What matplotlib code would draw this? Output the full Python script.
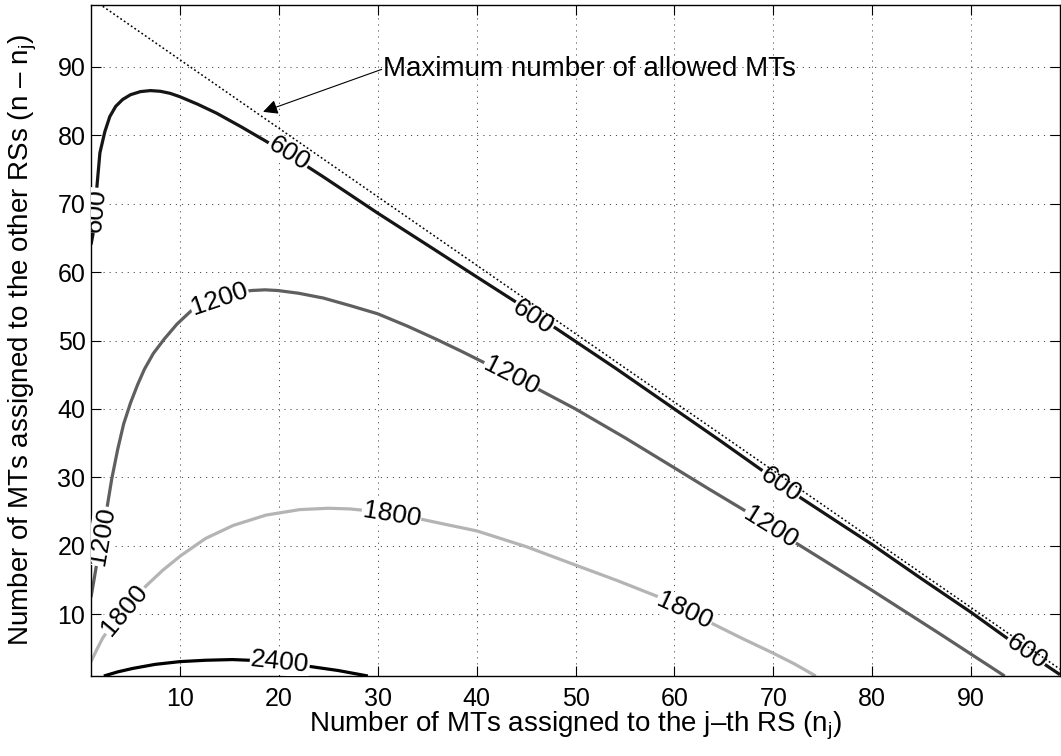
import numpy as np
import matplotlib
matplotlib.use('Agg')
import matplotlib.pyplot as plt

plt.rcParams['font.family'] = ['Liberation Sans', 'DejaVu Sans']
plt.rcParams['mathtext.fontset'] = 'custom'
plt.rcParams['mathtext.rm'] = 'Liberation Sans'
plt.rcParams['mathtext.it'] = 'Liberation Sans:italic'

# ---------------- data ----------------
levels = [600, 1200, 1800, 2400]

c600_x = [1.0, 1.2, 1.4, 1.6, 1.9, 2.4, 2.9, 3.5, 4.2, 5.0, 6.0, 7.0, 8.0, 9.0, 10.0,
          11.8, 13.7, 16.2, 18.7, 21.5, 24.5, 27.2, 30.0, 35.5, 40.0, 44.0, 48.0, 54.0,
          60.0, 64.5, 68.9, 72.8, 76.5, 80.0, 85.0, 90.0, 95.5, 99.0]
c600_y = [64.0, 65.5, 69.0, 72.5, 77.4, 80.5, 82.7, 84.2, 85.2, 85.9, 86.35, 86.5, 86.4, 86.1, 85.6,
          84.5, 83.2, 81.2, 79.1, 76.7, 73.9, 71.3, 68.6, 63.5, 59.3, 55.6, 51.8, 46.0,
          40.0, 35.5, 31.0, 27.0, 23.5, 20.2, 15.2, 10.3, 4.6, 1.2]

c1200_x = [1.0, 1.3, 1.6, 2.1, 2.6, 3.1, 3.7, 4.3, 5.0, 5.7, 6.4, 7.3, 8.4, 9.7, 11.1,
           12.4, 13.8, 15.5, 17.2, 18.6, 19.9, 22.0, 24.5, 27.2, 30.0, 33.0, 35.9, 38.5,
           41.0, 43.6, 46.2, 50.0, 55.0, 60.0, 63.5, 67.2, 72.1, 76.0, 80.0, 86.7, 93.4]
c1200_y = [12.5, 15.0, 17.6, 21.5, 25.4, 29.8, 34.1, 37.8, 40.9, 43.5, 45.8, 48.1, 50.2, 52.4, 54.3,
           55.4, 56.3, 56.9, 57.3, 57.4, 57.3, 56.9, 56.2, 55.1, 53.9, 52.1, 50.2, 48.4,
           46.6, 44.8, 42.9, 40.0, 35.8, 31.4, 28.3, 25.1, 20.6, 17.1, 13.5, 7.3, 1.0]

c1800_x = [1.0, 1.6, 2.2, 3.3, 4.4, 5.5, 6.6, 8.3, 10.1, 12.6, 15.4, 18.7, 22.1, 25.0,
           27.2, 29.3, 31.4, 34.4, 37.0, 40.0, 45.0, 50.0, 54.2, 58.5, 61.0, 63.5, 66.7,
           69.9, 72.1, 74.3]
c1800_y = [3.1, 4.9, 6.6, 8.7, 10.6, 12.45, 14.2, 16.5, 18.6, 21.1, 23.0, 24.5, 25.3, 25.5,
           25.4, 25.1, 24.7, 23.9, 23.1, 22.2, 19.9, 17.2, 14.95, 12.5, 10.7, 8.9, 6.6,
           4.4, 2.8, 1.0]

c2400_x = [2.3, 3.7, 5.2, 7.5, 10.0, 12.6, 15.3, 17.0, 20.1, 23.1, 26.0, 29.0]
c2400_y = [1.0, 1.6, 2.1, 2.7, 3.1, 3.3, 3.4, 3.3, 3.0, 2.4, 1.8, 1.0]

# label centres along each contour
lab600 = [(1.5, 69.0), (21.0, 77.3), (45.7, 53.4), (70.7, 28.9), (95.6, 4.6)]
lab1200 = [(2.1, 21.4), (14.0, 56.0), (43.5, 44.8), (69.7, 22.7)]
lab1800 = [(4.4, 10.6), (31.4, 24.6), (61.0, 10.5)]
lab2400 = [(20.1, 3.0)]

# maximum number of allowed MTs (n_j + (n - n_j) = const)
limit_x = [1, 99]
limit_y = [100, 2]

xticks = [10, 20, 30, 40, 50, 60, 70, 80, 90]
yticks = [10, 20, 30, 40, 50, 60, 70, 80, 90]

# ---------------- figure ----------------
fig = plt.figure(figsize=(10.61, 7.56), dpi=100)
ax = fig.add_axes([91 / 1061, 1 - 676 / 756, (1060 - 91) / 1061, (676 - 5) / 756])
ax.set_xlim(1, 99)
ax.set_ylim(1, 99)

curves = [(c600_x, c600_y, '#151515', lab600),
          (c1200_x, c1200_y, '#5f5f5f', lab1200),
          (c1800_x, c1800_y, '#b4b4b4', lab1800),
          (c2400_x, c2400_y, '#000000', lab2400)]

for (xs, ys, col, labs), lev in zip(curves, levels):
    ax.plot(xs, ys, color=col, lw=2.3, solid_capstyle='butt',
            solid_joinstyle='round', zorder=2)

ax.plot(limit_x, limit_y, color='black', lw=1.1, linestyle=(0, (1.2, 1.6)), zorder=6)


def label_angle(xs, ys, px, py):
    pts = ax.transData.transform(np.column_stack([xs, ys]))
    p = ax.transData.transform((px, py))
    d = np.hypot(pts[:, 0] - p[0], pts[:, 1] - p[1])
    i = int(np.argmin(d))
    i0 = max(i - 2, 0)
    i1 = min(i + 2, len(xs) - 1)
    dx, dy = pts[i1] - pts[i0]
    ang = np.degrees(np.arctan2(dy, dx))
    if ang > 90:
        ang -= 180
    if ang < -90:
        ang += 180
    return ang


for (xs, ys, col, labs), lev in zip(curves, levels):
    for (px, py) in labs:
        ang = label_angle(xs, ys, px, py)
        ax.text(px, py, str(lev), rotation=ang, rotation_mode='anchor',
                ha='center', va='center', fontsize=19, color='black', zorder=4,
                bbox=dict(facecolor='white', edgecolor='none', pad=0.5),
                clip_on=True)

# annotation
ax.annotate('', xy=(18.4, 83.4), xytext=(30.4, 89.6),
            arrowprops=dict(arrowstyle='-|>', color='black', lw=0.8,
                            mutation_scale=22, shrinkA=0, shrinkB=0),
            zorder=7)
ax.text(30.5, 89.6, 'Maximum number of allowed MTs', fontsize=20,
        ha='left', va='center', zorder=7)

# axes styling
ax.set_xticks(xticks)
ax.set_yticks(yticks)
ax.set_axisbelow(True)
ax.grid(True, color='0.3', lw=0.7, linestyle=(0, (1.2, 5.0)))
ax.tick_params(direction='in', length=7, width=0.8, top=True, right=True,
               labelsize=18)
ax.tick_params(axis='x', pad=8)
ax.tick_params(axis='y', pad=4)
for s in ax.spines.values():
    s.set_linewidth(1.0)
    s.set_color('black')

ax.set_xlabel(r'Number of MTs assigned to the j–th RS (n$_{\mathregular{j}}$)', fontsize=20)
ax.set_ylabel(r'Number of MTs assigned to the other RSs (n – n$_{\mathregular{j}}$)', fontsize=20)
ax.xaxis.label.set_va('baseline')
ax.yaxis.label.set_va('baseline')
ax.xaxis.set_label_coords(0.5, (676 - 731.7) / 671)
ax.yaxis.set_label_coords((28.3 - 91) / 969, 0.5)

fig.savefig('out.png', dpi=100)
